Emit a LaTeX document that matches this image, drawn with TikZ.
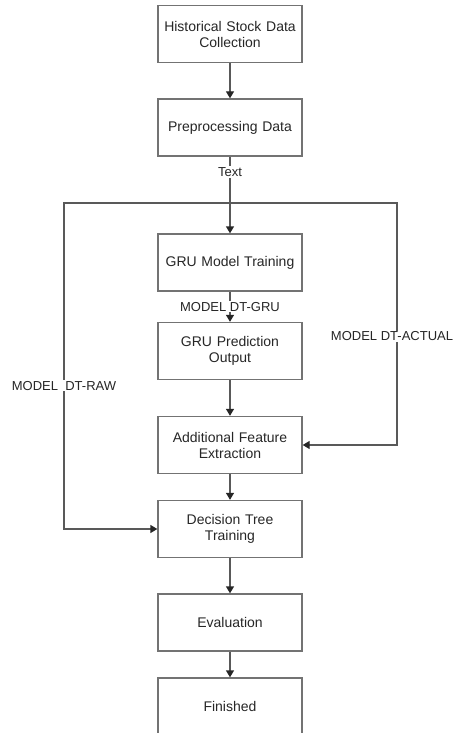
\documentclass[tikz,border=0pt]{standalone}
\usepackage{fontspec}
\setmainfont{Liberation Sans}
\usetikzlibrary{arrows.meta}

\tikzset{
  stage/.style={draw=black!55, line width=1.3pt, minimum width=144pt, minimum height=57pt,
    text width=140pt, align=center, inner sep=0pt, font=\fontsize{14}{16}\selectfont, text=black!85},
  flow/.style={draw=black!65, line width=1.3pt, -{Triangle[width=8pt,length=7pt,color=black!85]}},
  lbl/.style={fill=white, inner sep=1pt, font=\fontsize{13}{15}\selectfont, text=black!85}
}

\begin{document}
\begin{tikzpicture}[x=1pt,y=-1pt]
\useasboundingbox (0,0) rectangle (456,733);

% Stages
\node[stage] (collect) at (230,34) {Historical Stock Data\\Collection};
\node[stage] (prep) at (230,127.5) {Preprocessing Data};
\node[stage] (gru) at (230,262.5) {GRU Model Training};
\node[stage] (gruout) at (230,351) {GRU Prediction\\Output};
\node[stage] (feat) at (230,445) {Additional Feature\\Extraction};
\node[stage] (dtree) at (230,529) {Decision Tree\\Training};
\node[stage] (eval) at (230,622.5) {Evaluation};
\node[stage] (done) at (230,706.5) {Finished};

% Split point under preprocessing
\coordinate (split) at (230,203);
\coordinate (rawcorner) at (64,203);
\coordinate (actcorner) at (397,203);

\draw[flow] (collect) -- (prep);
\draw[flow] (prep) -- node[lbl, pos=0.2] {Text} (gru);
\draw[flow] (gru) -- node[lbl, pos=0.5] {MODEL DT-GRU} (gruout);
\draw[flow] (gruout) -- (feat);
\draw[flow] (feat) -- (dtree);
\draw[flow] (dtree) -- (eval);
\draw[flow] (eval) -- (done);

% Side branches (right label pulled in a little so it stays on the page)
\draw[flow] (split) -- (rawcorner) -- node[lbl, pos=0.56] {MODEL\ \ DT-RAW} (rawcorner |- dtree.west) -- (dtree.west);
\draw[flow] (split) -- (actcorner) -- node[lbl, pos=0.55, xshift=-5pt] {MODEL DT-ACTUAL} (actcorner |- feat.east) -- (feat.east);

\end{tikzpicture}
\end{document}
